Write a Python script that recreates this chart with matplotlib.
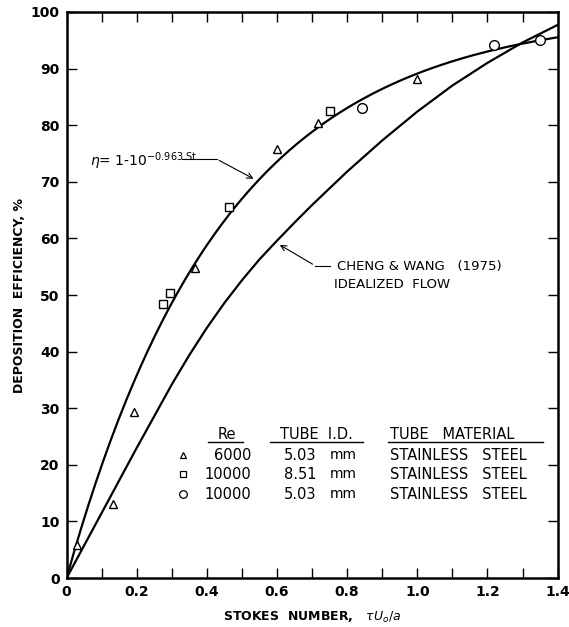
import matplotlib.pyplot as plt
import numpy as np

# measured deposition efficiency, by run
tri_st = [0.031, 0.131, 0.191, 0.365, 0.600, 0.718, 1.000]
tri_eff = [5.8, 13.1, 29.3, 54.8, 75.8, 80.4, 88.2]
sq_st = [0.274, 0.294, 0.462, 0.750]
sq_eff = [48.4, 50.4, 65.5, 82.5]
circ_st = [0.841, 1.220, 1.349]
circ_eff = [83.0, 94.2, 95.0]

# Cheng & Wang (1975), idealized flow
cw_st = [0.0, 0.1, 0.2, 0.3, 0.35, 0.4, 0.45, 0.5, 0.55, 0.6, 0.65, 0.7,
         0.8, 0.9, 1.0, 1.1, 1.2, 1.3, 1.4]
cw_eff = [0.0, 11.5, 23.0, 34.2, 39.4, 44.2, 48.6, 52.6, 56.3, 59.6, 62.8,
          65.9, 71.8, 77.3, 82.4, 87.0, 91.0, 94.6, 97.7]

# fitted curve: eta = 1 - 10^(-0.963 St)
FIT_COEF = 0.963

legend_re = ['6000', '10000', '10000']
legend_id = ['5.03', '8.51', '5.03']
legend_mat = 'STAINLESS   STEEL'

plt.rcParams['font.family'] = 'DejaVu Sans'

fig = plt.figure(figsize=(5.69, 6.27), dpi=100)
ax = fig.add_axes([0.117, 0.078, 0.863, 0.903])

st = np.linspace(0, 1.4, 200)
ax.plot(st, 100 * (1 - 10 ** (-FIT_COEF * st)), color='black', lw=1.6, zorder=2)
ax.plot(cw_st, cw_eff, color='black', lw=1.6, zorder=2)

mk = dict(linestyle='none', color='black', markerfacecolor='white',
          markeredgewidth=1.0, zorder=3, clip_on=False)
ax.plot(tri_st, tri_eff, marker='^', markersize=6, **mk)
ax.plot(sq_st, sq_eff, marker='s', markersize=6, **mk)
ax.plot(circ_st, circ_eff, marker='o', markersize=7, **mk)

ax.set_xlim(0, 1.4)
ax.set_ylim(0, 100)
ax.set_xticks(np.arange(0, 1.41, 0.2))
ax.set_xticklabels(['0', '0.2', '0.4', '0.6', '0.8', '1.0', '1.2', '1.4'])
ax.set_xticks(np.arange(0.1, 1.4, 0.2), minor=True)
ax.set_yticks(np.arange(0, 101, 10))
ax.tick_params(which='both', direction='in', top=True, right=True,
               length=7, width=1.0, labelsize=10, pad=5)
for lbl in ax.get_xticklabels() + ax.get_yticklabels():
    lbl.set_fontweight('bold')
for s in ax.spines.values():
    s.set_linewidth(1.8)

ax.set_xlabel(r'STOKES  NUMBER,   $\tau U_{o}/a$', fontsize=9,
              fontweight='bold', labelpad=8)
ax.set_ylabel('DEPOSITION  EFFICIENCY, %', fontsize=9, fontweight='bold',
              labelpad=3)

# curve labels with leader arrows
ax.text(0.066, 72.8, r'$\eta$= 1-10$^{-0.963\ \mathrm{St}}$', fontsize=10,
        va='baseline')
ax.plot([0.328, 0.428], [74.0, 74.0], color='black', lw=0.8)
ax.annotate('', xy=(0.540, 70.3), xytext=(0.428, 74.0),
            arrowprops=dict(arrowstyle='->', color='black', lw=0.8))

ax.text(0.770, 55.0, 'CHENG & WANG   (1975)', fontsize=9.5, va='center')
ax.text(0.763, 51.8, 'IDEALIZED  FLOW', fontsize=9.5, va='center')
ax.plot([0.708, 0.750], [55.2, 55.2], color='black', lw=0.8)
ax.annotate('', xy=(0.601, 59.1), xytext=(0.708, 55.2),
            arrowprops=dict(arrowstyle='->', color='black', lw=0.8))

# key table
head_y = 25.3
ax.text(0.456, head_y, 'Re', fontsize=10.5, ha='center', va='center')
ax.text(0.711, head_y, 'TUBE  I.D.', fontsize=10.5, ha='center', va='center')
ax.text(0.922, head_y, 'TUBE   MATERIAL', fontsize=10.5, ha='left', va='center')
for x0, x1 in [(0.403, 0.503), (0.580, 0.845), (0.916, 1.358)]:
    ax.plot([x0, x1], [24.0, 24.0], color='black', lw=1.0)

row_y = [21.7, 18.3, 14.8]
row_mk = [('^', 5), ('s', 5), ('o', 5.5)]
for y, (m, ms), re, tid in zip(row_y, row_mk, legend_re, legend_id):
    ax.plot([0.331], [y], marker=m, markersize=ms, linestyle='none',
            color='black', markerfacecolor='white', markeredgewidth=0.9)
    ax.text(0.527, y, re, fontsize=10.5, ha='right', va='center')
    ax.text(0.620, y, tid, fontsize=10.5, ha='left', va='center')
    ax.text(0.751, y, 'mm', fontsize=10, ha='left', va='center')
    ax.text(0.922, y, legend_mat, fontsize=10.5, ha='left', va='center')

fig.savefig('out.png', dpi=100)
